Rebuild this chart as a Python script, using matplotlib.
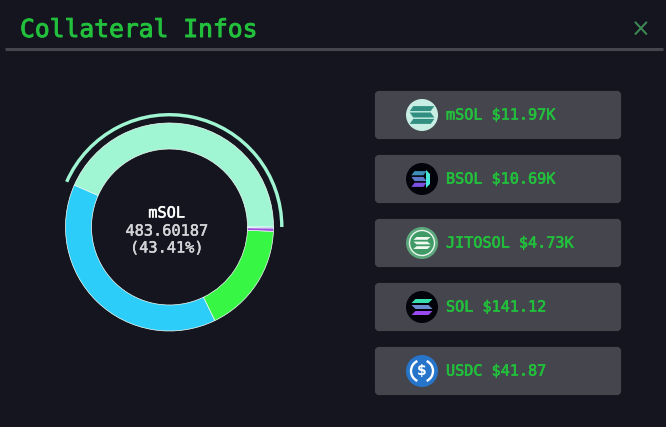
import matplotlib
matplotlib.use("Agg")
import matplotlib.pyplot as plt
import matplotlib.patheffects as pe
from matplotlib.patches import FancyBboxPatch, Circle, Polygon, Wedge, Arc

tokens = ["mSOL", "BSOL", "JITOSOL", "SOL", "USDC"]
usd_labels = ["$11.97K", "$10.69K", "$4.73K", "$141.12", "$41.87"]
amounts = [483.60187, 432.0, 191.0, 5.7, 1.7]
slice_colors = ["#A0F5D2", "#2CCDF8", "#38F644", "#A050E0", "#2775CA"]
active_label = "mSOL"
active_value = "483.60187"
active_pct = "(43.41%)"
title = "Collateral Infos"

W, H = 666, 427
BG = "#14151E"
PANEL = "#45454D"
GREEN = "#22C03C"
MONO = "DejaVu Sans Mono"

fig = plt.figure(figsize=((W + 0.01) / 100, (H + 0.01) / 100), dpi=100, facecolor=BG)
ax = fig.add_axes([0, 0, 1, 1])
ax.set_xlim(0, W)
ax.set_ylim(H, 0)
ax.axis("off")


def heavy(color, w=0.35):
    return [pe.withStroke(linewidth=w, foreground=color)]


# header
ax.text(20, 30, title, color=GREEN, fontsize=17.75, family=MONO, va="center", ha="left",
        path_effects=heavy(GREEN, 0.7))
ax.plot([5, 663], [49, 49], color="#46464F", lw=2.2, solid_capstyle="butt")
ax.text(641, 30, "\u00d7", color="#3D8A55", fontsize=17, family="DejaVu Sans", va="center", ha="center")


def bars(cx, cy, colors, w=11.5, h=3.4, gap=5.6, skew=2.6):
    for i, c in enumerate(colors):
        y = cy + (i - 1) * gap
        s = skew if i != 1 else -skew
        ax.add_patch(Polygon([[cx - w + s, y - h / 2], [cx + w + s, y - h / 2],
                              [cx + w - s, y + h / 2], [cx - w - s, y + h / 2]],
                             closed=True, fc=c, ec="none", zorder=4))


def icon(name, cx, cy):
    r = 16
    if name == "mSOL":
        ax.add_patch(Circle((cx, cy), r, fc="#C8EEE4", ec="none", zorder=3))
        bars(cx, cy, ["#308F80"] * 3, w=10.5, h=5.0, gap=6.4, skew=1.8)
    elif name == "BSOL":
        ax.add_patch(Circle((cx, cy), r, fc="#03040A", ec="none", zorder=3))
        bars(cx - 3, cy, ["#3E8FB8", "#5C78C8", "#7C50E0"], w=6, h=4.2, gap=5.8, skew=1.6)
        ax.add_patch(Polygon([[cx + 4, cy - 9], [cx + 8, cy - 5], [cx + 8, cy + 5], [cx + 4, cy + 9]],
                             closed=True, fc="#48E8D8", ec="none", zorder=4))
    elif name == "JITOSOL":
        ax.add_patch(Circle((cx, cy), r, fc="#5CA87C", ec="none", zorder=3))
        ax.add_patch(Circle((cx, cy), 12.5, fc="#3F9A66", ec="#EAF6EE", lw=1.0, zorder=3.5))
        bars(cx, cy, ["#F0F8F2"] * 3, w=7, h=2.8, gap=4.6, skew=1.6)
    elif name == "SOL":
        ax.add_patch(Circle((cx, cy), r, fc="#03040A", ec="none", zorder=3))
        bars(cx, cy, ["#38E0B0", "#6C8CD0", "#9A48F0"], w=8.5, h=4.0, gap=6.0, skew=2.0)
    else:
        ax.add_patch(Circle((cx, cy), r, fc="#2775CA", ec="none", zorder=3))
        ax.add_patch(Arc((cx, cy), 22, 22, theta1=115, theta2=245, ec="white", lw=1.7, zorder=4))
        ax.add_patch(Arc((cx, cy), 22, 22, theta1=-65, theta2=65, ec="white", lw=1.7, zorder=4))
        ax.text(cx, cy, "$", color="white", fontsize=10, fontweight="bold", family="DejaVu Sans",
                ha="center", va="center", zorder=5)


# list panels
for i, (name, usd) in enumerate(zip(tokens, usd_labels)):
    top = 91 + 64 * i
    ax.add_patch(FancyBboxPatch((377, top + 2), 242, 44, boxstyle="round,pad=0,rounding_size=2",
                                mutation_aspect=1, fc=PANEL, ec=PANEL, lw=3, zorder=2))
    cy = top + 24
    icon(name, 422, cy)
    ax.text(446, cy, f"{name} {usd}", color=GREEN, fontsize=10.9, family=MONO,
            va="center", ha="left", zorder=5, path_effects=heavy(GREEN, 0.45))

# donut, on an axes measured in pixels around its centre
cx, cy, R, r_in = 169.5, 227, 104, 78
span = 125
pie_ax = fig.add_axes([(cx - span) / W, 1 - (cy + span) / H, 2 * span / W, 2 * span / H])
pie_ax.patch.set_alpha(0)
pie_ax.pie(amounts, colors=slice_colors, startangle=0, counterclock=True, radius=R,
           wedgeprops=dict(width=R - r_in, edgecolor="#F4FFFA", linewidth=0.5))
pie_ax.set_xlim(-span, span)
pie_ax.set_ylim(-span, span)
pie_ax.set_aspect("equal")
pie_ax.axis("off")
active_sweep = 360 * amounts[0] / sum(amounts)
pie_ax.add_patch(Wedge((0, 0), 114, 0, active_sweep, width=3.4, fc=slice_colors[0], ec="none"))

# centre label
for y, txt, col in [(213, active_label, "white"), (231, active_value, "#D4D4D8"), (248, active_pct, "#D4D4D8")]:
    ax.text(cx - 3, y, txt, color=col, fontsize=11, family=MONO, ha="center", va="center", zorder=6,
            path_effects=heavy(col, 0.35))

fig.savefig("out.png", dpi=100, facecolor=BG)
